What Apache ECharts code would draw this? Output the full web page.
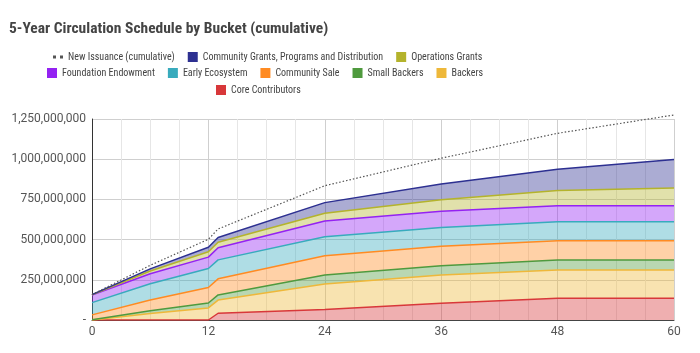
<!DOCTYPE html>
<html>
<head>
<meta charset="utf-8">
<title>5-Year Circulation Schedule by Bucket (cumulative)</title>
<script src="https://cdn.jsdelivr.net/npm/echarts@6/dist/echarts.min.js"></script>
<style>
  html, body { margin: 0; padding: 0; background: #fff; }
  #chart { width: 700px; height: 353px; }
</style>
</head>
<body>
<div id="chart"></div>
<script>
// months since launch
const months = [0, 6, 12, 13, 24, 36, 48, 60]
// tokens released per bucket, millions (stacked in this order, bottom first)
const coreContributors = [0, 0, 0, 42, 66, 104, 135, 135]
const backers = [0, 40, 75, 82, 158, 176, 176, 176]
const smallBackers = [2, 18, 31, 32, 56, 58, 62, 62]
const communitySale = [30, 67, 96, 100, 120, 120, 120, 120]
const earlyEcosystem = [76, 100, 118, 118, 118, 118, 118, 118]
const foundationEndowment = [47, 63, 71, 75, 98, 100, 100, 100]
const operationsGrants = [2, 17, 33, 34, 48, 72, 95, 110]
const communityGrants = [1, 13, 28, 30, 66, 98, 131, 177]
// total new issuance, millions (not stacked)
const newIssuance = [158, 340, 502, 566, 835, 1006, 1161, 1275]
// axis ticks
const monthTicks = [0, 12, 24, 36, 48, 60]
const valueTicks = [0, 250, 500, 750, 1000, 1250]

const MILLION = 1e6
const narrow = "'Liberation Sans Narrow', 'Roboto Condensed', Roboto, sans-serif"

const buckets = [
  { name: 'Core Contributors', values: coreContributors, color: '#d8383a' },
  { name: 'Backers', values: backers, color: '#eeb83a' },
  { name: 'Small Backers', values: smallBackers, color: '#4f9a3e' },
  { name: 'Community Sale', values: communitySale, color: '#ff8b22' },
  { name: 'Early Ecosystem', values: earlyEcosystem, color: '#38abbd' },
  { name: 'Foundation Endowment', values: foundationEndowment, color: '#9422f2' },
  { name: 'Operations Grants', values: operationsGrants, color: '#b4b32c' },
  { name: 'Community Grants, Programs and Distribution', values: communityGrants, color: '#2d3091' }
]

// value first, month second: with two value axes echarts stacks the first
// numeric column, so the amount has to come before the month
function rows (values) {
  return months.map((m, i) => [values[i] * MILLION, m])
}

let series = buckets.map(b => ({
  name: b.name,
  type: 'line',
  stack: 'total',
  data: rows(b.values),
  encode: { x: 1, y: 0 },
  symbol: 'none',
  lineStyle: { width: 1.5, color: b.color },
  itemStyle: { color: b.color },
  areaStyle: { color: b.color, opacity: 0.4 },
  emphasis: { disabled: true }
}))

// runs a little past the top gridline at month 60, so don't clip it
series.push({
  name: 'New Issuance (cumulative)',
  type: 'line',
  data: rows(newIssuance),
  encode: { x: 1, y: 0 },
  symbol: 'none',
  clip: false,
  lineStyle: { width: 1.2, color: '#555', type: [1.5, 2] },
  itemStyle: { color: '#555' },
  emphasis: { disabled: true },
  z: 5
})

const legendRows = [
  { left: 53, top: 52, names: ['New Issuance (cumulative)', 'Community Grants, Programs and Distribution', 'Operations Grants'] },
  { left: 47, top: 68, names: ['Foundation Endowment', 'Early Ecosystem', 'Community Sale', 'Small Backers', 'Backers'] },
  { left: 216, top: 85, names: ['Core Contributors'] }
]

const dotsIcon = 'path://M0,0h3v3h-3z M7,0h3v3h-3z'

let legend = legendRows.map(row => ({
  left: row.left,
  top: row.top,
  padding: 0,
  itemGap: 13,
  itemWidth: 10,
  itemHeight: 10,
  selectedMode: false,
  textStyle: { fontFamily: narrow, fontSize: 10, color: '#444' },
  data: row.names.map(n => ({
    name: n,
    icon: n === 'New Issuance (cumulative)' ? dotsIcon : 'rect'
  }))
}))

let chart = echarts.init(document.getElementById('chart'), null, { renderer: 'canvas' })
chart.setOption({
  animation: false,
  backgroundColor: '#fff',
  title: {
    text: '5-Year Circulation Schedule by Bucket (cumulative)',
    left: 9,
    top: 21,
    padding: 0,
    textStyle: { fontFamily: narrow, fontWeight: 'bold', fontSize: 15.5, color: '#444' }
  },
  legend: legend,
  grid: { left: 92, right: 26, top: 119, bottom: 33, containLabel: false, outerBoundsMode: 'none' },
  xAxis: {
    type: 'value',
    min: monthTicks[0],
    max: monthTicks[monthTicks.length - 1],
    interval: monthTicks[1] - monthTicks[0],
    axisLine: { show: true, lineStyle: { color: '#444' } },
    axisTick: { show: false },
    axisLabel: { color: '#555', fontFamily: 'Roboto', fontSize: 12, margin: 6 },
    splitLine: { show: true, lineStyle: { color: '#cfcfcf' } },
    minorTick: { show: false, splitNumber: 4 },
    minorSplitLine: { show: true, lineStyle: { color: '#e6e6e6' } }
  },
  yAxis: {
    type: 'value',
    min: valueTicks[0] * MILLION,
    max: valueTicks[valueTicks.length - 1] * MILLION,
    interval: (valueTicks[1] - valueTicks[0]) * MILLION,
    axisLine: { show: true, lineStyle: { color: '#333' } },
    axisTick: { show: false },
    axisLabel: {
      color: '#555',
      fontFamily: 'Roboto',
      fontSize: 12,
      margin: 6,
      formatter: v => v === 0 ? '-' : v.toLocaleString('en-US')
    },
    splitLine: { show: true, lineStyle: { color: '#cfcfcf' } }
  },
  series: series
})
</script>
</body>
</html>
